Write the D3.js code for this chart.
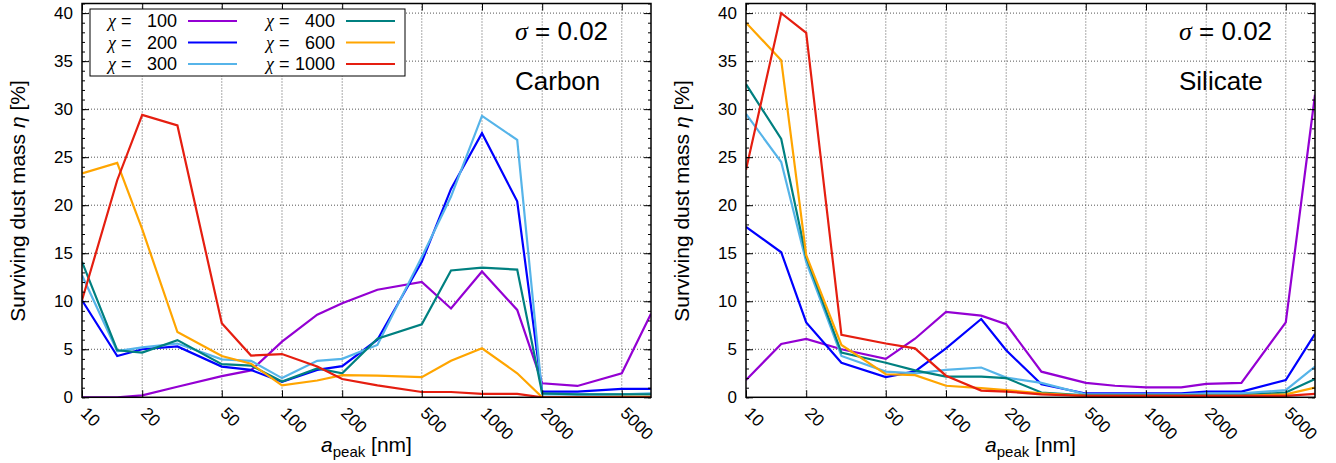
<!DOCTYPE html>
<html>
<head>
	<meta charset="utf-8">
	<script src="https://cdn.jsdelivr.net/npm/d3@7"></script>
	<style>
	body{
		margin: 0;
		background: #fff;
		font-family: "Liberation Sans", Arial, sans-serif;
	}
	</style>
</head>
<body>
<svg id="chart" width="1336" height="463"></svg>
<script>
	// grain size (nm)
	var aPeak = [10, 15, 20, 30, 50, 70, 100, 150, 200, 300, 500, 700, 1000, 1500, 2000, 3000, 5000, 7000];
	var chiLabels = ["100", "200", "300", "400", "600", "1000"];
	var colors = ["#9400d3", "#0000ff", "#56b4e9", "#008080", "#ffa500", "#e51e10"];
	var xTicks = [10, 20, 50, 100, 200, 500, 1000, 2000, 5000];
	var yTicks = [0, 5, 10, 15, 20, 25, 30, 35, 40];

	// carbon, sigma = 0.02
	var carbon100 = [0, 0, 0.2, 1.1, 2.2, 2.8, 5.8, 8.6, 9.8, 11.2, 12.0, 9.25, 13.1, 9.1, 1.46, 1.18, 2.5, 8.7];
	var carbon200 = [10.1, 4.3, 5.0, 5.3, 3.2, 2.85, 1.6, 2.85, 3.25, 6.0, 14.1, 21.7, 27.5, 20.4, 0.6, 0.6, 0.87, 0.87];
	var carbon300 = [12.7, 4.8, 5.2, 5.6, 3.95, 3.8, 2.0, 3.8, 4.0, 5.45, 14.6, 20.9, 29.3, 26.8, 0.3, 0.3, 0.3, 0.4];
	var carbon400 = [14.1, 4.9, 4.65, 5.95, 3.45, 3.3, 1.65, 3.0, 2.5, 6.1, 7.6, 13.2, 13.5, 13.3, 0.4, 0.3, 0.3, 0.3];
	var carbon600 = [23.3, 24.4, 17.5, 6.8, 4.3, 3.5, 1.25, 1.75, 2.3, 2.25, 2.1, 3.8, 5.1, 2.5, 0.0, 0.0, 0.05, 0.05];
	var carbon1000 = [10.1, 22.6, 29.4, 28.3, 7.7, 4.35, 4.5, 3.2, 1.9, 1.25, 0.55, 0.55, 0.35, 0.35, 0, 0, 0, 0];

	// silicate, sigma = 0.02
	var silicate100 = [1.8, 5.55, 6.07, 5.0, 4.0, 6.1, 8.9, 8.5, 7.6, 2.67, 1.5, 1.2, 1.04, 1.04, 1.4, 1.5, 7.8, 31.5];
	var silicate200 = [17.75, 15.1, 7.8, 3.6, 2.1, 2.7, 5.1, 8.15, 4.9, 1.35, 0.4, 0.4, 0.4, 0.4, 0.6, 0.6, 1.8, 6.6];
	var silicate300 = [29.5, 24.5, 14.1, 4.3, 2.67, 2.5, 2.85, 3.1, 2.05, 1.5, 0.3, 0.3, 0.3, 0.3, 0.4, 0.4, 0.75, 3.2];
	var silicate400 = [32.6, 26.9, 14.6, 4.65, 3.6, 2.8, 2.15, 2.15, 2.0, 0.5, 0.2, 0.2, 0.2, 0.2, 0.2, 0.2, 0.5, 1.9];
	var silicate600 = [39.0, 35.1, 14.8, 5.45, 2.4, 2.3, 1.2, 0.95, 0.75, 0.4, 0.15, 0.15, 0.15, 0.15, 0.15, 0.15, 0.3, 1.0];
	var silicate1000 = [23.7, 40.0, 37.95, 6.5, 5.6, 5.1, 2.25, 0.7, 0.6, 0.3, 0.15, 0.15, 0.15, 0.15, 0.15, 0.15, 0.15, 0.35];

	var svg = d3.select("#chart");

	drawPanel(82, "Carbon", [carbon100, carbon200, carbon300, carbon400, carbon600, carbon1000], true);
	drawPanel(746, "Silicate", [silicate100, silicate200, silicate300, silicate400, silicate600, silicate1000], false);

	function drawPanel(left, material, series, withLegend) {
		var width = 569, top = 3.5, bottom = 397.3;

		var x = d3.scaleLog().domain([10, 7000]).range([left, left + width]);
		var y = d3.scaleLinear().domain([0, 41]).range([bottom, top]);

		var g = svg.append("g");

		// grid
		g.selectAll(".gx").data(xTicks.slice(1)).enter().append("line")
			.attr("x1", function(d) { return x(d); })
			.attr("x2", function(d) { return x(d); })
			.attr("y1", top).attr("y2", bottom)
			.attr("stroke", "#555").attr("stroke-width", 1)
			.attr("stroke-dasharray", "1,2");
		g.selectAll(".gy").data(yTicks.slice(1)).enter().append("line")
			.attr("x1", left).attr("x2", left + width)
			.attr("y1", function(d) { return y(d); })
			.attr("y2", function(d) { return y(d); })
			.attr("stroke", "#555").attr("stroke-width", 1)
			.attr("stroke-dasharray", "1,2");

		// clip
		var clipId = "clip" + material;
		svg.append("clipPath").attr("id", clipId).append("rect")
			.attr("x", left).attr("y", top).attr("width", width).attr("height", bottom - top);

		// data lines
		var line = d3.line()
			.x(function(d, i) { return x(aPeak[i]); })
			.y(function(d) { return y(d); });
		var lines = g.append("g").attr("clip-path", "url(#" + clipId + ")");
		series.forEach(function(s, i) {
			lines.append("path")
				.attr("d", line(s))
				.attr("fill", "none")
				.attr("stroke", colors[i])
				.attr("stroke-width", 2.2)
				.attr("stroke-linejoin", "miter");
		});

		// axes (inward ticks on all four sides)
		var minor = d3.range(0, 42, 1);
		g.append("g").attr("transform", "translate(" + left + ",0)")
			.call(d3.axisRight(y).tickValues(minor).tickSize(3).tickFormat(""));
		g.append("g").attr("transform", "translate(" + (left + width) + ",0)")
			.call(d3.axisLeft(y).tickValues(minor).tickSize(3).tickFormat(""));
		g.append("g").attr("transform", "translate(" + left + ",0)")
			.call(d3.axisRight(y).tickValues(yTicks).tickSize(7).tickFormat(""));
		g.append("g").attr("transform", "translate(" + (left + width) + ",0)")
			.call(d3.axisLeft(y).tickValues(yTicks).tickSize(7).tickFormat(""));
		g.append("g").attr("transform", "translate(0," + bottom + ")")
			.call(d3.axisTop(x).tickValues(xTicks).tickSize(7).tickFormat(""));
		g.append("g").attr("transform", "translate(0," + top + ")")
			.call(d3.axisBottom(x).tickValues(xTicks).tickSize(7).tickFormat(""));
		g.selectAll(".domain").remove();
		g.selectAll(".tick line").attr("stroke", "#000").attr("stroke-width", 1);

		// border
		g.append("rect")
			.attr("x", left).attr("y", top).attr("width", width).attr("height", bottom - top)
			.attr("fill", "none").attr("stroke", "#000").attr("stroke-width", 1.5);

		// tick labels
		g.selectAll(".yl").data(yTicks).enter().append("text")
			.attr("x", left - 9)
			.attr("y", function(d) { return y(d) + 6; })
			.attr("text-anchor", "end")
			.attr("font-size", "17px")
			.text(function(d) { return d; });
		g.selectAll(".xl").data(xTicks).enter().append("text")
			.attr("transform", function(d) { return "translate(" + (x(d) + 2) + "," + 410 + ") rotate(45)"; })
			.attr("text-anchor", "start")
			.attr("dy", "0.35em")
			.attr("font-size", "17px")
			.text(function(d) { return d; });

		// axis titles
		var yt = g.append("text")
			.attr("transform", "translate(" + (left - 57) + ",201) rotate(-90)")
			.attr("text-anchor", "middle")
			.attr("font-size", "21px");
		yt.append("tspan").text("Surviving dust mass ");
		yt.append("tspan").attr("font-style", "italic").text("η");
		yt.append("tspan").text(" [%]");

		var xt = g.append("text")
			.attr("x", left + width / 2)
			.attr("y", 452)
			.attr("text-anchor", "middle")
			.attr("font-size", "21px");
		xt.append("tspan").attr("font-style", "italic").text("a");
		xt.append("tspan").attr("font-size", "15px").attr("dy", 5).text("peak");
		xt.append("tspan").attr("dy", -5).text(" [nm]");

		// annotations
		var sig = g.append("text")
			.attr("x", left + 433).attr("y", 40)
			.attr("font-size", "26px");
		sig.append("tspan").attr("font-style", "italic").attr("font-family", "'Liberation Serif', serif").text("σ");
		sig.append("tspan").text(" = 0.02");
		g.append("text")
			.attr("x", left + 433).attr("y", 90)
			.attr("font-size", "26px")
			.text(material);

		if (withLegend) drawLegend(left);
	}

	function drawLegend(left) {
		var lg = svg.append("g");
		lg.append("rect")
			.attr("x", left + 8).attr("y", 9).attr("width", 315).attr("height", 67)
			.attr("fill", "#fff").attr("stroke", "#000").attr("stroke-width", 1);

		chiLabels.forEach(function(label, i) {
			var col = Math.floor(i / 3), row = i % 3;
			var cx = left + 26 + col * 158;
			var cy = 27 + row * 21.5;
			var t = lg.append("text").attr("x", cx).attr("y", cy).attr("font-size", "18px");
			t.append("tspan").attr("font-style", "italic").attr("font-family", "'Liberation Serif', serif").text("χ");
			t.append("tspan").text(" =");
			lg.append("text")
				.attr("x", cx + 69).attr("y", cy)
				.attr("text-anchor", "end")
				.attr("font-size", "18px")
				.text(label);
			lg.append("line")
				.attr("x1", cx + 80).attr("x2", cx + 129)
				.attr("y1", cy - 6).attr("y2", cy - 6)
				.attr("stroke", colors[i]).attr("stroke-width", 2.2);
		});
	}
</script>
</body>
</html>
